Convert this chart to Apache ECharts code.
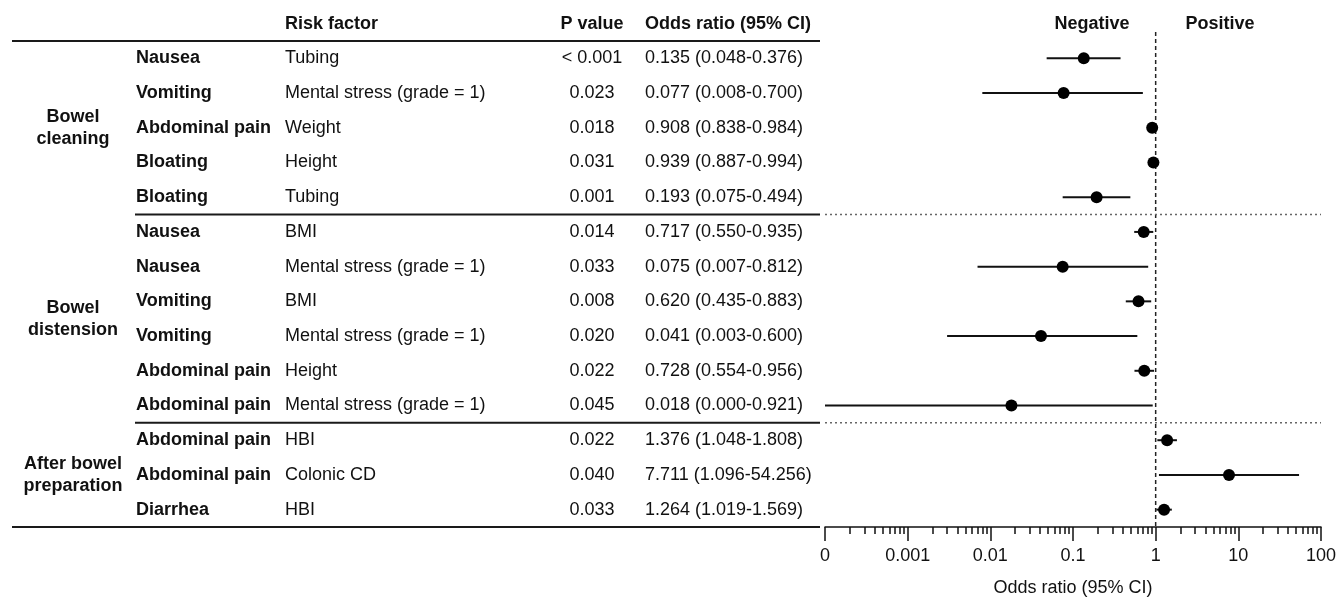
<!DOCTYPE html>
<html><head><meta charset="utf-8">
<script src="https://cdn.jsdelivr.net/npm/echarts@6/dist/echarts.min.js"></script>
<style>html,body{margin:0;padding:0;background:#fff}#c{width:1339px;height:598px}</style>
</head><body><div id="c"></div>
<script>
// ---------------- data ----------------
const groupNames = ['Bowel\ncleaning', 'Bowel\ndistension', 'After bowel\npreparation'];
const groupOfRow = [0,0,0,0,0,1,1,1,1,1,1,2,2,2];
const outcomes = ['Nausea','Vomiting','Abdominal pain','Bloating','Bloating','Nausea','Nausea','Vomiting','Vomiting','Abdominal pain','Abdominal pain','Abdominal pain','Abdominal pain','Diarrhea'];
const riskFactors = ['Tubing','Mental stress (grade = 1)','Weight','Height','Tubing','BMI','Mental stress (grade = 1)','BMI','Mental stress (grade = 1)','Height','Mental stress (grade = 1)','HBI','Colonic CD','HBI'];
const pValues = ['< 0.001','0.023','0.018','0.031','0.001','0.014','0.033','0.008','0.020','0.022','0.045','0.022','0.040','0.033'];
const oddsRatio = [0.135,0.077,0.908,0.939,0.193,0.717,0.075,0.620,0.041,0.728,0.018,1.376,7.711,1.264];
const ciLower  = [0.048,0.008,0.838,0.887,0.075,0.550,0.007,0.435,0.003,0.554,0.000,1.048,1.096,1.019];
const ciUpper  = [0.376,0.700,0.984,0.994,0.494,0.935,0.812,0.883,0.600,0.956,0.921,1.808,54.256,1.569];
const tickValues = [0.0001,0.001,0.01,0.1,1,10,100];
const tickLabels = ['0','0.001','0.01','0.1','1','10','100'];
const headers = ['Risk factor','P value','Odds ratio (95% CI)','Negative','Positive'];
const axisTitle = 'Odds ratio (95% CI)';

// ---------------- helpers ----------------
const AXIS_MIN = tickValues[0];
const lg = v => Math.log10(Math.max(v, AXIS_MIN));
const FONT = "'Liberation Sans', Arial, Helvetica, sans-serif";
const INK = '#111';
const FS = 18;
const majorTicks = tickValues.map(lg);
const minorTicks = [];
for (let d = 0; d < tickValues.length - 1; d++) {
  for (let k = 2; k <= 9; k++) minorTicks.push(lg(k * tickValues[d]));
}
const rows = outcomes.map((_, i) => i);
const fmt = v => v.toFixed(3);
const orText = rows.map(i => `${fmt(oddsRatio[i])} (${fmt(ciLower[i])}-${fmt(ciUpper[i])})`);
const groupStart = groupNames.map((_, g) => groupOfRow.indexOf(g));
const groupEnd = groupNames.map((_, g) => groupOfRow.lastIndexOf(g));

function txt(x, y, text, opts) {
  return { type: 'text', x, y, style: Object.assign({ text, fill: INK, fontSize: FS, fontFamily: FONT, fontWeight: 'normal', align: 'left', verticalAlign: 'middle' }, opts || {}) };
}

const chart = echarts.init(document.getElementById('c'), null, { renderer: 'canvas' });
chart.setOption({
  animation: false,
  backgroundColor: '#fff',
  grid: { left: 825, right: 18, top: 41, bottom: 71, containLabel: false, outerBoundsMode: 'none' },
  xAxis: [
    {
      type: 'value', position: 'bottom', min: lg(tickValues[0]), max: lg(tickValues[tickValues.length - 1]), interval: 1,
      axisLine: { show: true, lineStyle: { color: INK, width: 1.5 } },
      axisTick: { show: true, customValues: majorTicks, length: 14, lineStyle: { color: INK, width: 1.5 } },
      axisLabel: {
        customValues: majorTicks, margin: 20, fontSize: FS, color: INK, fontFamily: FONT,
        formatter: v => { const i = majorTicks.findIndex(t => Math.abs(t - v) < 1e-9); return i >= 0 ? tickLabels[i] : ''; }
      },
      splitLine: { show: false },
      name: axisTitle, nameLocation: 'middle', nameGap: 52,
      nameTextStyle: { fontSize: FS, color: INK, fontFamily: FONT }
    },
    {
      type: 'value', position: 'bottom', min: lg(tickValues[0]), max: lg(tickValues[tickValues.length - 1]), interval: 1,
      axisLine: { show: false },
      axisTick: { show: true, customValues: minorTicks, length: 7, lineStyle: { color: INK, width: 1.5 } },
      axisLabel: { show: false },
      splitLine: { show: false }
    }
  ],
  yAxis: { type: 'category', data: rows, inverse: true, show: false, boundaryGap: true },
  graphic: [
    txt(285, 24, headers[0], { fontWeight: 'bold' }),
    txt(592, 24, headers[1], { fontWeight: 'bold', align: 'center' }),
    txt(645, 24, headers[2], { fontWeight: 'bold' }),
    txt(1092, 24, headers[3], { fontWeight: 'bold', align: 'center' }),
    txt(1220, 24, headers[4], { fontWeight: 'bold', align: 'center' })
  ],
  series: [
    { // table rules, separators and reference line
      type: 'custom', silent: true, z: 1,
      data: [[0, 0]],
      renderItem: function (params, api) {
        const band = api.size([0, 1])[1];
        const yTop = api.coord([0, 0])[1] - band / 2;
        const yBot = api.coord([0, rows.length - 1])[1] + band / 2;
        const xRef = api.coord([lg(1), 0])[0];
        const xEnd = api.coord([lg(tickValues[tickValues.length - 1]), 0])[0];
        const solid = { stroke: '#1a1a1a', lineWidth: 2 };
        const kids = [
          { type: 'line', shape: { x1: 12, y1: yTop, x2: 820, y2: yTop }, style: solid },
          { type: 'line', shape: { x1: 12, y1: yBot, x2: 820, y2: yBot }, style: solid },
          { type: 'line', shape: { x1: xRef, y1: yTop - 9, x2: xRef, y2: yBot }, style: { stroke: '#222', lineWidth: 1.5, lineDash: [4, 3] } }
        ];
        for (let g = 1; g < groupNames.length; g++) {
          const y = api.coord([0, groupStart[g]])[1] - band / 2;
          kids.push({ type: 'line', shape: { x1: 135, y1: y, x2: 820, y2: y }, style: solid });
          kids.push({ type: 'line', shape: { x1: 825, y1: y, x2: xEnd, y2: y }, style: { stroke: '#666', lineWidth: 1.5, lineDash: [2, 3] } });
        }
        return { type: 'group', children: kids };
      }
    },
    { // table text
      type: 'custom', silent: true, z: 2,
      data: rows.map(i => [0, i]),
      renderItem: function (params, api) {
        const i = params.dataIndex;
        const y = api.coord([0, i])[1];
        const kids = [
          txt(136, y, outcomes[i], { fontWeight: 'bold' }),
          txt(285, y, riskFactors[i]),
          txt(592, y, pValues[i], { align: 'center' }),
          txt(645, y, orText[i])
        ];
        const g = groupOfRow[i];
        if (groupStart[g] === i) {
          const yc = (api.coord([0, groupStart[g]])[1] + api.coord([0, groupEnd[g]])[1]) / 2;
          kids.push(txt(73, yc, groupNames[g], { fontWeight: 'bold', align: 'center', lineHeight: 22 }));
        }
        return { type: 'group', children: kids };
      }
    },
    { // confidence intervals
      type: 'custom', silent: true, z: 3,
      data: rows.map(i => [lg(ciLower[i]), lg(ciUpper[i]), i]),
      encode: { x: [0, 1], y: 2 },
      renderItem: function (params, api) {
        const a = api.coord([api.value(0), api.value(2)]);
        const b = api.coord([api.value(1), api.value(2)]);
        return { type: 'line', shape: { x1: a[0], y1: a[1], x2: b[0], y2: b[1] }, style: { stroke: '#111', lineWidth: 2 } };
      }
    },
    { // point estimates
      type: 'scatter', z: 4, symbol: 'circle', symbolSize: 12,
      itemStyle: { color: '#000', opacity: 1 },
      data: rows.map(i => [lg(oddsRatio[i]), i])
    }
  ]
});
</script>
</body></html>
